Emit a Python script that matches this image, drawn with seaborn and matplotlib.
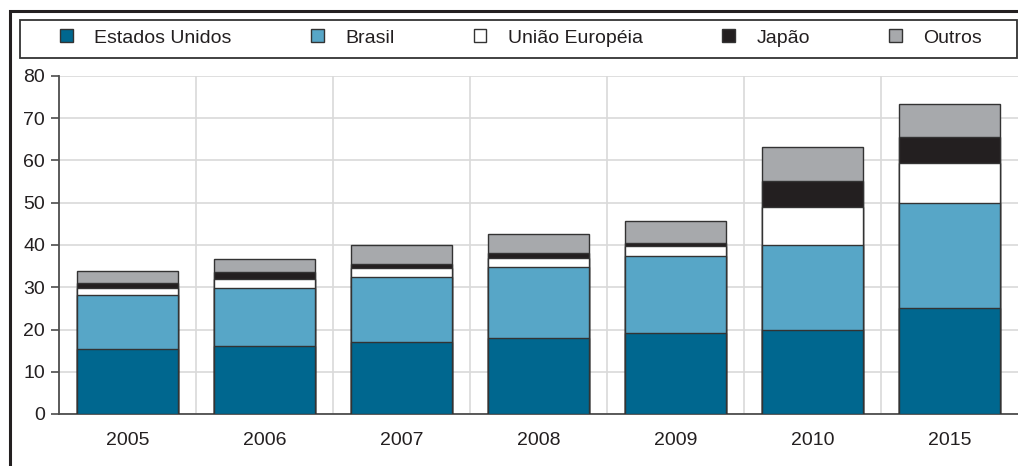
import pandas as pd
import seaborn as sns
import matplotlib.pyplot as plt
import numpy as np
from matplotlib.patches import Patch, Rectangle

# data
years = ['2005', '2006', '2007', '2008', '2009', '2010', '2015']
estados_unidos = [15.3, 16.2, 17.1, 17.9, 19.2, 20.0, 25.0]
brasil = [12.9, 13.7, 15.4, 16.9, 18.3, 20.0, 25.0]
uniao_europeia = [1.6, 2.1, 2.1, 2.1, 2.2, 8.9, 9.3]
japao = [1.2, 1.5, 1.0, 1.1, 0.8, 6.3, 6.2]
outros = [2.8, 3.3, 4.3, 4.5, 5.1, 7.9, 7.9]

series_names = ['Estados Unidos', 'Brasil', 'União Européia', 'Japão', 'Outros']
series_colors = ['#00678f', '#57a6c7', '#ffffff', '#231f20', '#a7a9ac']

sns.set_style('white')
plt.rcParams['font.family'] = ['Liberation Sans', 'DejaVu Sans']
plt.rcParams['text.color'] = '#231f20'

df = pd.DataFrame({
    'ano': years,
    'Estados Unidos': estados_unidos,
    'Brasil': brasil,
    'União Européia': uniao_europeia,
    'Japão': japao,
    'Outros': outros,
})

# cumulative sums for stacking
cum = df[series_names].cumsum(axis=1)

fig = plt.figure(figsize=(10.18, 4.66), dpi=100)
ax = fig.add_axes([59 / 1018, 1 - 414 / 466, 1 - 59 / 1018, (414 - 76) / 466])

edge = '#333333'
# draw tallest stack first, then the lower layers on top
for name, color in reversed(list(zip(series_names, series_colors))):
    sns.barplot(x=df['ano'], y=cum[name], color=color, saturation=1,
                width=0.73, edgecolor=edge, linewidth=1.0, ax=ax, zorder=3)

ax.set_xlim(-0.5, 6.5)
ax.set_ylim(0, 80)
ax.set_yticks(range(0, 81, 10))
ax.set_xlabel('')
ax.set_ylabel('')

# grid: horizontal at majors, vertical at category boundaries
ax.set_xticks(np.arange(0.5, 6.5, 1), minor=True)
ax.grid(axis='y', which='major', color='#d9d9d9', linewidth=1.2, zorder=0)
ax.grid(axis='x', which='minor', color='#d9d9d9', linewidth=1.2, zorder=0)
ax.set_axisbelow(True)

for side in ['top', 'right']:
    ax.spines[side].set_visible(False)
for side in ['left', 'bottom']:
    ax.spines[side].set_color('#4d4d4d')
    ax.spines[side].set_linewidth(1.3)

ax.tick_params(axis='x', which='major', length=0, pad=13, labelsize=14, labelcolor='#231f20')
ax.tick_params(axis='x', which='minor', length=5, width=1.2, color='#4d4d4d', direction='out')
ax.tick_params(axis='y', which='major', length=6, width=1.2, color='#4d4d4d', pad=4,
               labelsize=14, labelcolor='#231f20', left=True)

# legend entries, spread between x=63 and x=980
handles = [Patch(facecolor=c, edgecolor=edge, linewidth=1.0) for c in series_colors]
leg = fig.legend(handles, series_names, ncol=5, mode='expand',
                 bbox_to_anchor=(60 / 1018, 1 - 57 / 466, 922 / 1018, 38 / 466),
                 loc='center', fontsize=14, frameon=False,
                 handlelength=0.65, handleheight=0.65, handletextpad=1.1,
                 borderaxespad=0, borderpad=0)

# legend box frame
fig.add_artist(Rectangle((19.5 / 1018, 1 - 57.5 / 466), 997 / 1018, 38 / 466,
                         transform=fig.transFigure, fill=False,
                         edgecolor='#333333', linewidth=1.3))

# outer frame lines (top and left)
fig.add_artist(Rectangle((9.5 / 1018, -0.2), 1.2, 1.2 - 10.5 / 466,
                         transform=fig.transFigure, fill=False,
                         edgecolor='#231f20', linewidth=2.2))

fig.savefig('out.png', dpi=100)
